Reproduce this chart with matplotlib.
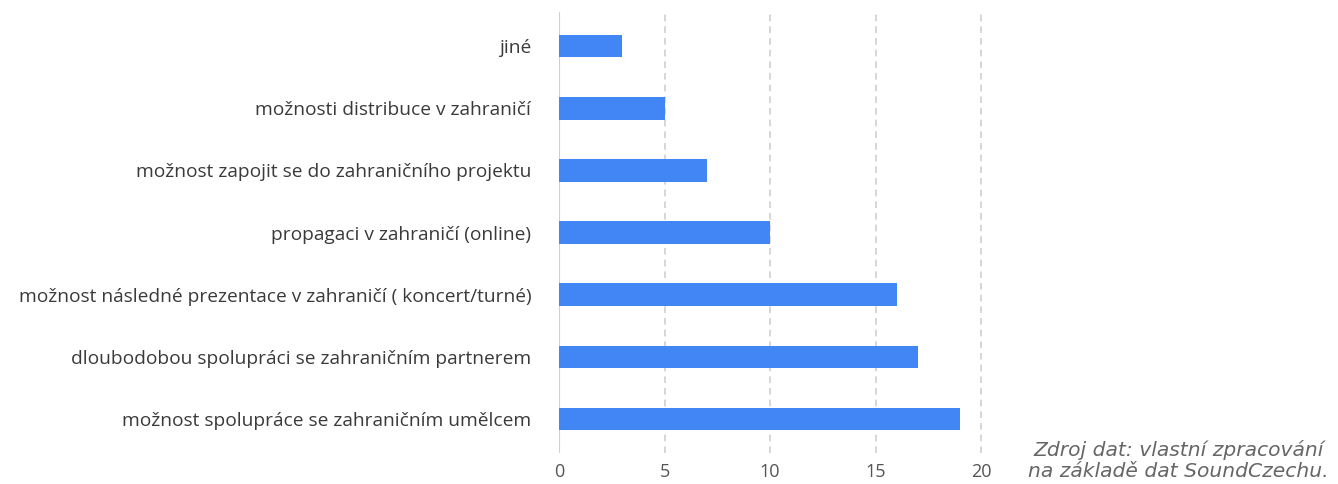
import matplotlib
matplotlib.use("Agg")
import matplotlib.pyplot as plt

plt.rcParams['font.family'] = ['Open Sans', 'DejaVu Sans']

categories = [
    "jiné",
    "možnosti distribuce v zahraničí",
    "možnost zapojit se do zahraničního projektu",
    "propagaci v zahraničí (online)",
    "možnost následné prezentace v zahraničí ( koncert/turné)",
    "dloubodobou spolupráci se zahraničním partnerem",
    "možnost spolupráce se zahraničním umělcem",
]
counts = [3, 5, 7, 10, 16, 17, 19]
x_ticks = [0, 5, 10, 15, 20]
source_note = "Zdroj dat: vlastní zpracování\nna základě dat SoundCzechu."

fig = plt.figure(figsize=(13.38, 4.84), dpi=100)
ax = fig.add_axes([0.4178, 0.064, 0.3186, 0.911])

ypos = list(range(len(categories)))
ax.barh(ypos, counts, height=0.36, color="#4285F4", zorder=3)

ax.set_ylim(len(categories) - 0.45, -0.55)
ax.set_xlim(0, 20.2)
ax.set_yticks(ypos)
ax.set_yticklabels(categories, fontsize=13.8, color="#3a3a3a")
ax.set_xticks(x_ticks)
ax.set_xticklabels([str(t) for t in x_ticks], fontsize=13, color="#555555")
ax.tick_params(axis="y", length=0, pad=20)
ax.tick_params(axis="x", length=0, pad=7)

for t in x_ticks[1:]:
    ax.axvline(t, color="#d0d0d0", lw=1.2, ls=(0, (4, 3)), zorder=1, clip_on=False)
ax.axvline(0, color="#d0d0d0", lw=1.5, zorder=2)

for s in ax.spines.values():
    s.set_visible(False)

fig.text(0.993, 0.048, source_note, ha="right", va="center", fontsize=14.6,
         family=["DejaVu Sans"], style="italic", color="#666666",
         linespacing=1.15, multialignment="center")

fig.savefig("out.png", dpi=100, facecolor="white")
